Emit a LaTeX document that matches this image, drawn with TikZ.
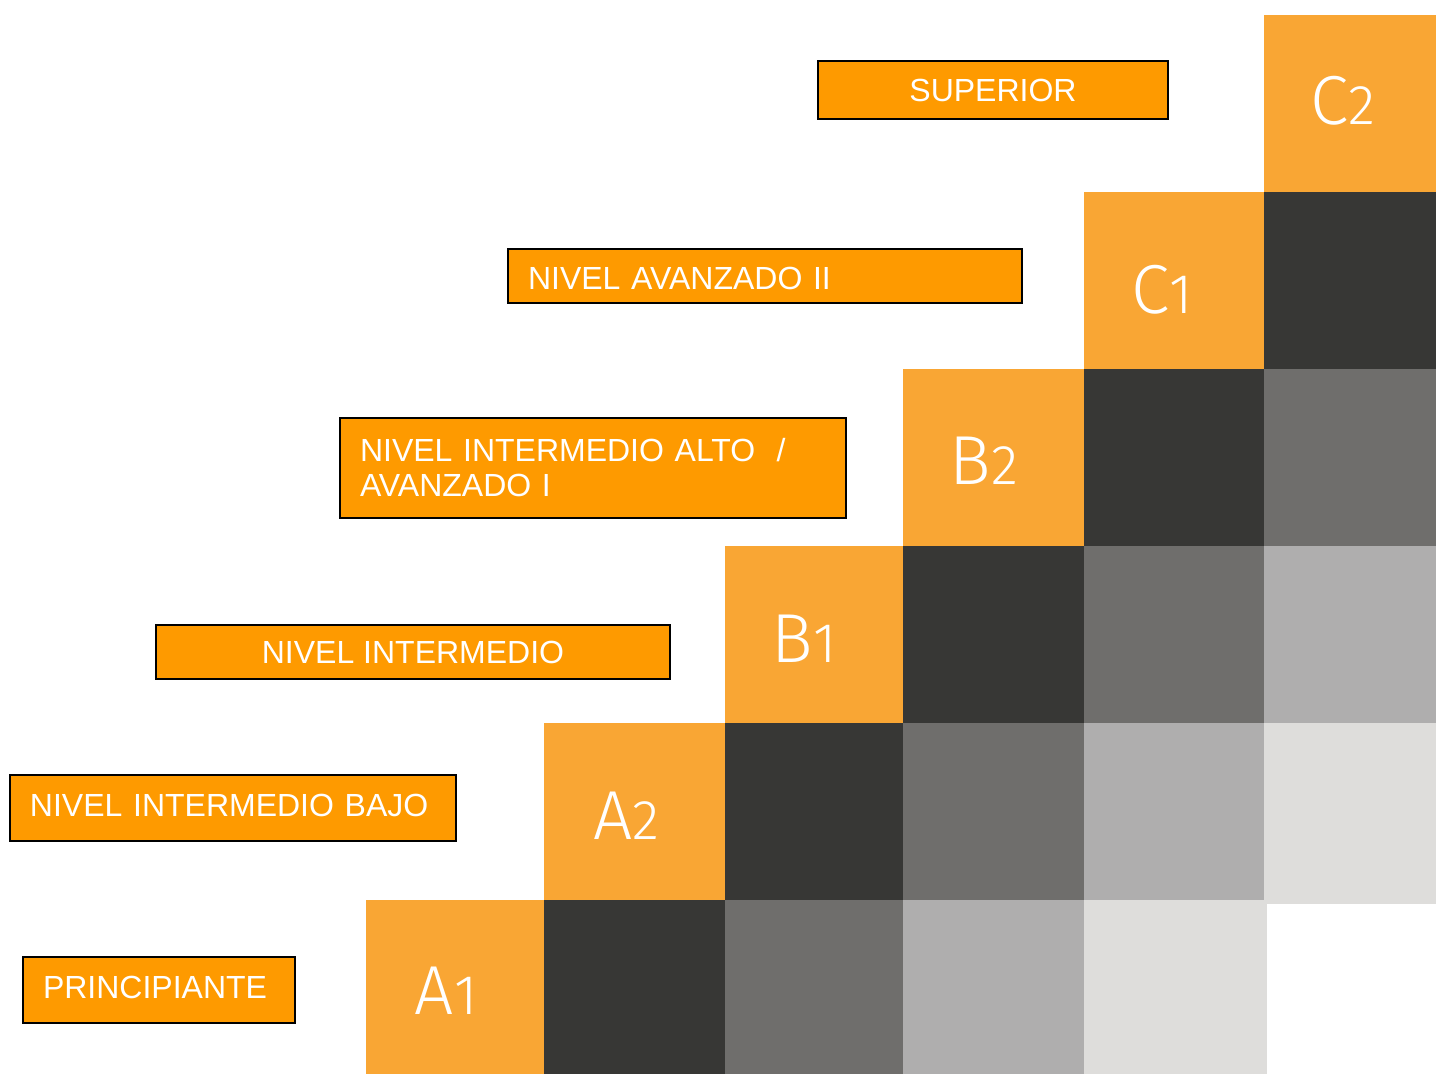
\documentclass[tikz,border=0pt]{standalone}
\usepackage{fontspec}
\setmainfont{Liberation Sans}
\newfontfamily\cellfont{Fira Sans}[UprightFont=* Light]
\definecolor{cellorange}{HTML}{F9A634}
\definecolor{boxorange}{HTML}{FE9A00}
\definecolor{celldark}{HTML}{373735}
\definecolor{cellmid}{HTML}{6F6E6C}
\definecolor{celllight}{HTML}{AFAEAE}
\definecolor{cellpale}{HTML}{DEDDDB}
\begin{document}
\begin{tikzpicture}[x=0.75pt,y=-0.75pt,
  lbl/.style={draw=black, line width=0.8pt, fill=boxorange, text=white,
    font=\fontsize{24}{26.25}\selectfont, inner ysep=0pt},
  lblleft/.style={lbl, align=left, inner xsep=15pt},
  lvl/.style={anchor=base, text=white, inner sep=0pt}]
\useasboundingbox (0,0) rectangle (1436,1074);
% row 0
\fill[cellorange] (366,900) rectangle (544,1074);
\fill[celldark]   (544,900) rectangle (725,1074);
\fill[cellmid]    (725,900) rectangle (903,1074);
\fill[celllight]  (903,900) rectangle (1084,1074);
\fill[cellpale]   (1084,900) rectangle (1267,1074);
% row 1
\fill[cellorange] (544,723) rectangle (725,900);
\fill[celldark]   (725,723) rectangle (903,900);
\fill[cellmid]    (903,723) rectangle (1084,900);
\fill[celllight]  (1084,723) rectangle (1264,900);
\fill[cellpale]   (1264,723) rectangle (1436,904);
% row 2
\fill[cellorange] (725,546) rectangle (903,723);
\fill[celldark]   (903,546) rectangle (1084,723);
\fill[cellmid]    (1084,546) rectangle (1264,723);
\fill[celllight]  (1264,546) rectangle (1436,723);
% row 3
\fill[cellorange] (903,369) rectangle (1084,546);
\fill[celldark]   (1084,369) rectangle (1264,546);
\fill[cellmid]    (1264,369) rectangle (1436,546);
% row 4
\fill[cellorange] (1084,192) rectangle (1264,369);
\fill[celldark]   (1264,192) rectangle (1436,369);
% row 5
\fill[cellorange] (1264,15) rectangle (1436,192);

% level letters
\newcommand{\lvltext}[2]{\cellfont{\fontsize{52}{52}\selectfont #1}{\fontsize{42}{42}\selectfont #2}}
\node[lvl] (A1) at (446,1014) {\lvltext{A}{1}};
\node[lvl] (A2) at (626,839) {\lvltext{A}{2}};
\node[lvl] (B1) at (804,662) {\lvltext{B}{1}};
\node[lvl] (B2) at (984,484) {\lvltext{B}{2}};
\node[lvl] (C1) at (1162,313) {\lvltext{C}{1}};
\node[lvl] (C2) at (1343,125) {\lvltext{C}{2}};

% labels
\node[lbl, align=center, minimum width=262.5pt, minimum height=43.5pt] (sup) at (993,90) {SUPERIOR};
\node[lblleft, text width=355.5pt, minimum height=40.5pt, text height=20pt] (av2) at (765,276) {NIVEL AVANZADO II};
\node[lblleft, text width=349.5pt, minimum height=75pt] (alto) at (593,468) {NIVEL INTERMEDIO ALTO\ \ /\\AVANZADO I};
\node[lbl, align=center, minimum width=385.5pt, minimum height=40.5pt] (inter) at (413,652) {NIVEL INTERMEDIO};
\node[lblleft, text width=304.5pt, minimum height=49.5pt, text depth=4.5pt] (bajo) at (233,808) {NIVEL INTERMEDIO BAJO};
\node[lblleft, text width=174pt, minimum height=49.5pt, text depth=4.5pt] (prin) at (159,990) {PRINCIPIANTE};
\end{tikzpicture}
\end{document}
